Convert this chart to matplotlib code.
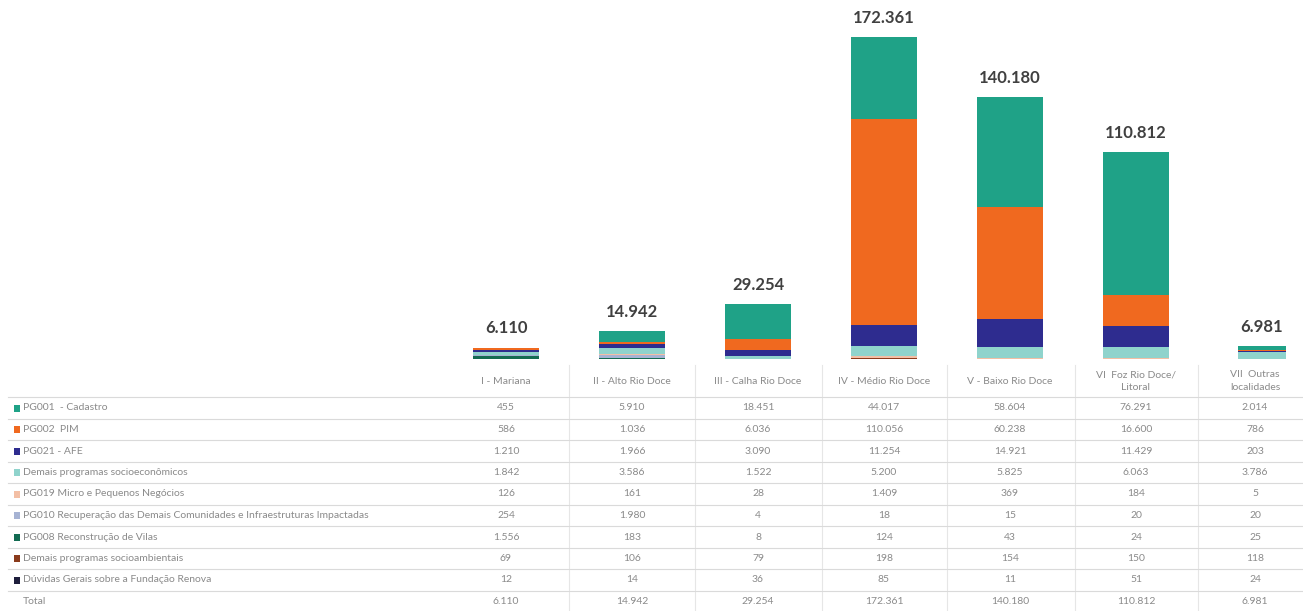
import matplotlib
matplotlib.use("Agg")
import matplotlib.pyplot as plt
import numpy as np

regions = ["I - Mariana", "II - Alto Rio Doce", "III - Calha Rio Doce", "IV - Médio Rio Doce",
           "V - Baixo Rio Doce", "VI  Foz Rio Doce/\nLitoral", "VII  Outras\nlocalidades"]

series_names = [
    "PG001  - Cadastro",
    "PG002  PIM",
    "PG021 - AFE",
    "Demais programas socioeconômicos",
    "PG019 Micro e Pequenos Negócios",
    "PG010 Recuperação das Demais Comunidades e Infraestruturas Impactadas",
    "PG008 Reconstrução de Vilas",
    "Demais programas socioambientais",
    "Dúvidas Gerais sobre a Fundação Renova",
]

pg001 = [455, 5910, 18451, 44017, 58604, 76291, 2014]
pg002 = [586, 1036, 6036, 110056, 60238, 16600, 786]
pg021 = [1210, 1966, 3090, 11254, 14921, 11429, 203]
demais_socioeco = [1842, 3586, 1522, 5200, 5825, 6063, 3786]
pg019 = [126, 161, 28, 1409, 369, 184, 5]
pg010 = [254, 1980, 4, 18, 15, 20, 20]
pg008 = [1556, 183, 8, 124, 43, 24, 25]
demais_socioamb = [69, 106, 79, 198, 154, 150, 118]
duvidas = [12, 14, 36, 85, 11, 51, 24]
totals = [6110, 14942, 29254, 172361, 140180, 110812, 6981]

series = [pg001, pg002, pg021, demais_socioeco, pg019, pg010, pg008, demais_socioamb, duvidas]
colors = ["#1FA287", "#F0691F", "#2E2C8F", "#8FD3CC", "#F3BFA5", "#A6B3D3",
          "#136B52", "#8A3B1C", "#1E1E3C"]

def fmt(v):
    return f"{v:,}".replace(",", ".")

W, H = 1303, 611
fig = plt.figure(figsize=(W / 100, H / 100), dpi=100)
fig.patch.set_facecolor("white")

font = "Lato"
txt_color = "#8a8a8a"

# ---- bar chart axes ----
base_px = 359
ax = fig.add_axes([443 / W, (H - base_px) / H, (W - 443) / W, base_px / H])
x = np.arange(len(regions))
widths = [0.52] * 6 + [0.38]
bottom = np.zeros(len(regions))
for vals, col in reversed(list(zip(series, colors))):
    ax.bar(x, vals, width=widths, bottom=bottom, color=col, edgecolor="none")
    bottom += np.array(vals)
for xi, t in zip(x, totals):
    ax.text(xi, t + 6000, fmt(t), ha="center", va="bottom", fontsize=12,
            fontweight="bold", color="#404040", family=font)
ax.set_xlim(-0.5, 6.325)
ax.set_ylim(0, 172361 * base_px / 322)
ax.axis("off")

# ---- table axes ----
tax = fig.add_axes([0, 0, 1, 1])
tax.set_xlim(0, W)
tax.set_ylim(H, 0)
tax.axis("off")

col_centers = [506 + 126 * i for i in range(7)]
col_centers[6] = 1255
vlines = [569, 695, 822, 947, 1075, 1198]
for vx in vlines:
    tax.plot([vx, vx], [365, 611], color="#e6e6e6", lw=0.8)

# headers
for cx, name in zip(col_centers, regions):
    tax.text(cx, 381, name, ha="center", va="center", fontsize=7.5,
             color=txt_color, family=font, linespacing=1.5)

row_y0 = 408
row_h = 21.5
hlines = [397 + row_h * i for i in range(10)]
for i, hy in enumerate(hlines):
    tax.plot([8, W], [hy, hy], color="#dadada", lw=0.8)

row_labels = series_names + ["Total"]
row_values = series + [totals]
for r, (lab, vals) in enumerate(zip(row_labels, row_values)):
    y = row_y0 + row_h * r
    if r < len(series):
        tax.add_patch(plt.Rectangle((14, y - 3.5), 6, 7, color=colors[r], lw=0))
    tax.text(23, y, lab, ha="left", va="center", fontsize=7.5,
             color=txt_color, family=font)
    for cx, v in zip(col_centers, vals):
        tax.text(cx, y, fmt(v), ha="center", va="center", fontsize=7.5,
                 color=txt_color, family=font)

fig.savefig("out.png", dpi=100, facecolor="white")
